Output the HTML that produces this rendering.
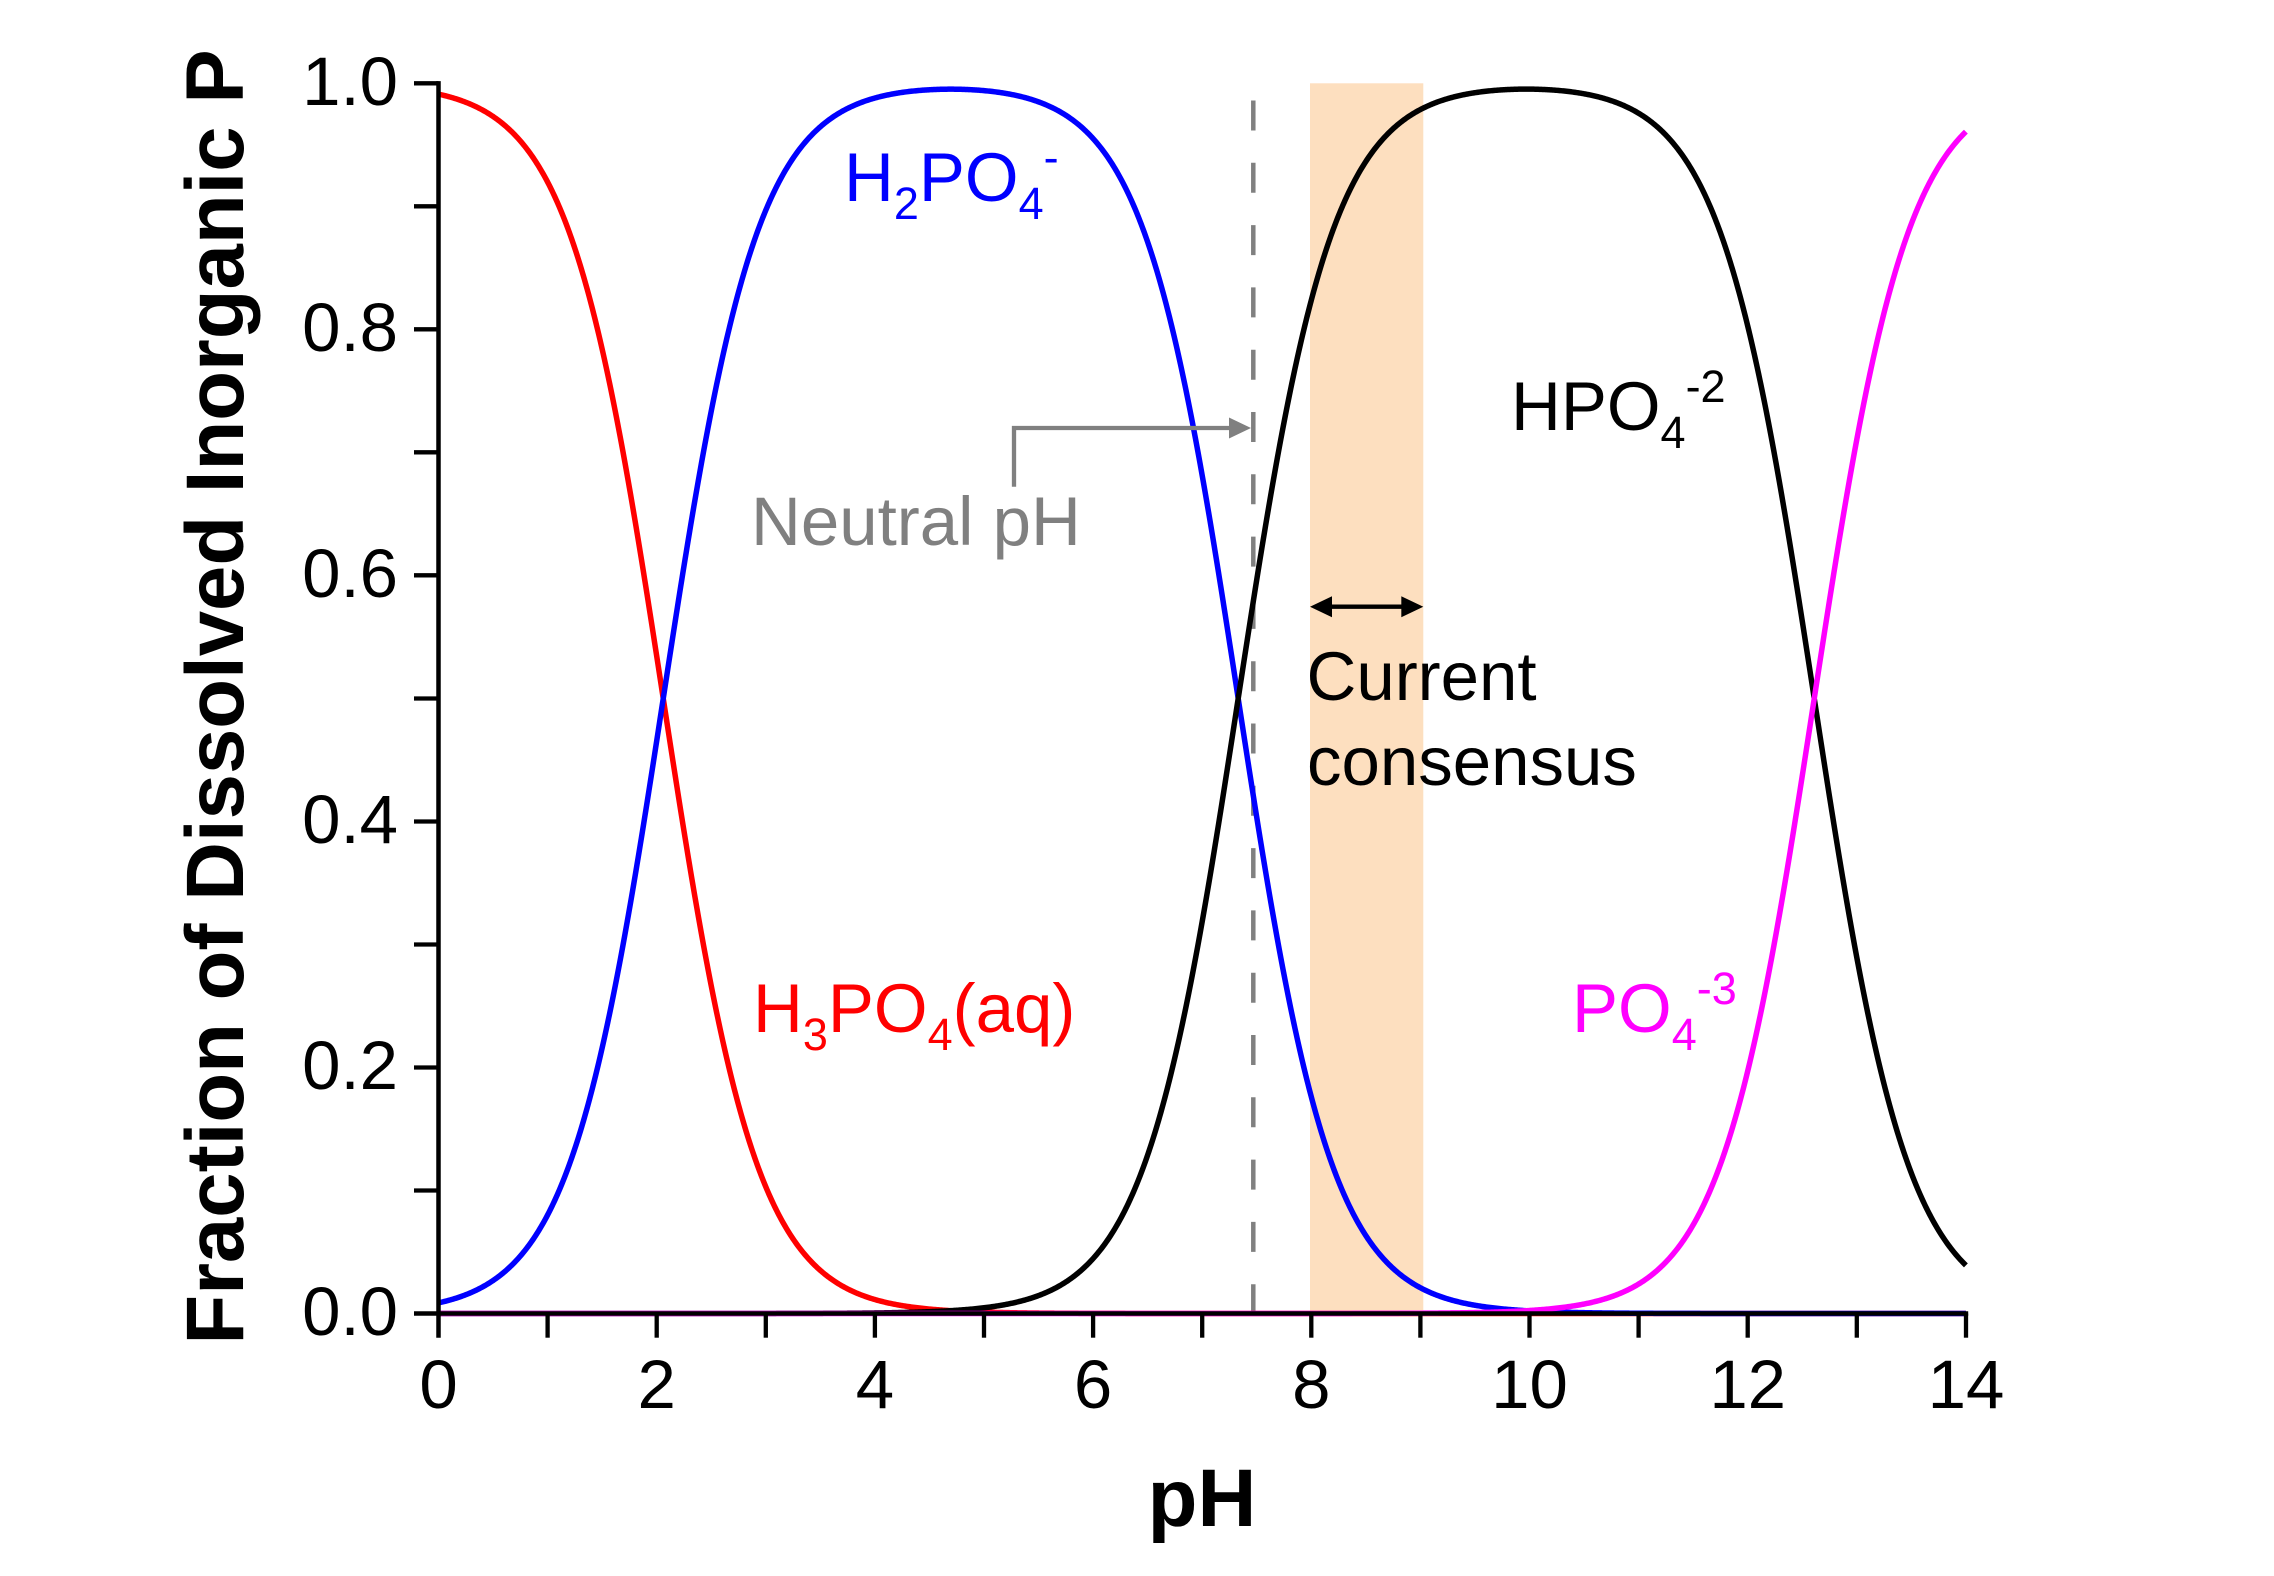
<!DOCTYPE html>
<html>
<head>
<meta charset="utf-8">
<style>
  html, body { margin: 0; padding: 0; background: #ffffff; }
  svg { display: block; }
  text { font-family: "Liberation Sans", Arial, sans-serif; }
</style>
</head>
<body>
<svg xmlns="http://www.w3.org/2000/svg" width="2274" height="1576" viewBox="0 0 2274 1576">
  <rect x="0" y="0" width="2274" height="1576" fill="#ffffff"/>

  <!-- consensus band -->
  <rect x="1310" y="83.3" width="113.3" height="1230.2" fill="#FDDFBF"/>

  <!-- neutral pH dashed line -->
  <line x1="1253.3" y1="100.5" x2="1253.3" y2="1313.5" stroke="#808080" stroke-width="4.5" stroke-dasharray="30 32.3"/>

  <!-- curves -->
  <g fill="none" stroke-width="5.5" stroke-linejoin="round">
    <path id="c0" stroke="#FF0000" d=""/>
    <path id="c1" stroke="#0000FF" d=""/>
    <path id="c2" stroke="#000000" d=""/>
    <path id="c3" stroke="#FF00FF" d=""/>
  </g>

  <!-- axes -->
  <g stroke="#000000" stroke-width="4.5" fill="none">
    <line x1="438.5" y1="81.1" x2="438.5" y2="1337.7"/>
    <line x1="414" y1="1313.5" x2="1968.2" y2="1313.5"/>
  </g>
  <!-- y ticks -->
  <g stroke="#000000" stroke-width="4.3">
    <line x1="414" y1="83.3" x2="438.5" y2="83.3"/>
    <line x1="414" y1="206.3" x2="438.5" y2="206.3"/>
    <line x1="414" y1="329.3" x2="438.5" y2="329.3"/>
    <line x1="414" y1="452.3" x2="438.5" y2="452.3"/>
    <line x1="414" y1="575.3" x2="438.5" y2="575.3"/>
    <line x1="414" y1="698.5" x2="438.5" y2="698.5"/>
    <line x1="414" y1="821.5" x2="438.5" y2="821.5"/>
    <line x1="414" y1="944.5" x2="438.5" y2="944.5"/>
    <line x1="414" y1="1067.5" x2="438.5" y2="1067.5"/>
    <line x1="414" y1="1190.5" x2="438.5" y2="1190.5"/>
  </g>
  <!-- x ticks -->
  <g stroke="#000000" stroke-width="4.3">
    <line x1="547.6" y1="1313.5" x2="547.6" y2="1337.7"/>
    <line x1="656.7" y1="1313.5" x2="656.7" y2="1337.7"/>
    <line x1="765.8" y1="1313.5" x2="765.8" y2="1337.7"/>
    <line x1="874.9" y1="1313.5" x2="874.9" y2="1337.7"/>
    <line x1="984.0" y1="1313.5" x2="984.0" y2="1337.7"/>
    <line x1="1093.1" y1="1313.5" x2="1093.1" y2="1337.7"/>
    <line x1="1202.2" y1="1313.5" x2="1202.2" y2="1337.7"/>
    <line x1="1311.3" y1="1313.5" x2="1311.3" y2="1337.7"/>
    <line x1="1420.4" y1="1313.5" x2="1420.4" y2="1337.7"/>
    <line x1="1529.5" y1="1313.5" x2="1529.5" y2="1337.7"/>
    <line x1="1638.6" y1="1313.5" x2="1638.6" y2="1337.7"/>
    <line x1="1747.7" y1="1313.5" x2="1747.7" y2="1337.7"/>
    <line x1="1856.8" y1="1313.5" x2="1856.8" y2="1337.7"/>
    <line x1="1966.0" y1="1313.5" x2="1966.0" y2="1337.7"/>
  </g>

  <!-- y tick labels -->
  <g font-size="69" fill="#000000" text-anchor="end">
    <text x="398" y="1335">0.0</text>
    <text x="398" y="1089">0.2</text>
    <text x="398" y="843">0.4</text>
    <text x="398" y="597">0.6</text>
    <text x="398" y="351">0.8</text>
    <text x="398" y="105">1.0</text>
  </g>
  <!-- x tick labels -->
  <g font-size="69" fill="#000000" text-anchor="middle">
    <text x="438.5" y="1408">0</text>
    <text x="656.7" y="1408">2</text>
    <text x="874.9" y="1408">4</text>
    <text x="1093.1" y="1408">6</text>
    <text x="1311.3" y="1408">8</text>
    <text x="1529.5" y="1408">10</text>
    <text x="1747.7" y="1408">12</text>
    <text x="1966.0" y="1408">14</text>
  </g>

  <!-- axis titles -->
  <text x="1202" y="1526" font-size="81.5" font-weight="bold" text-anchor="middle" fill="#000000">pH</text>
  <text transform="translate(243,697) rotate(-90)" x="0" y="0" font-size="81.5" font-weight="bold" text-anchor="middle" fill="#000000">Fraction of Dissolved Inorganic P</text>

  <!-- species labels -->
  <text x="844" y="201" font-size="69" fill="#0000FF">H<tspan font-size="45" dy="18">2</tspan><tspan dy="-18">PO</tspan><tspan font-size="45" dy="18">4</tspan><tspan font-size="45" dy="-46">-</tspan></text>

  <text x="1511" y="430" font-size="69" fill="#000000">HPO<tspan font-size="45" dy="18">4</tspan><tspan font-size="45" dy="-46">-2</tspan></text>

  <text x="753" y="1032" font-size="69" fill="#FF0000">H<tspan font-size="45" dy="18">3</tspan><tspan dy="-18">PO</tspan><tspan font-size="45" dy="18">4</tspan><tspan dy="-18">(aq)</tspan></text>

  <text x="1572" y="1032" font-size="69" fill="#FF00FF">PO<tspan font-size="45" dy="18">4</tspan><tspan font-size="45" dy="-46">-3</tspan></text>

  <!-- Neutral pH annotation -->
  <text x="751" y="545" font-size="69" fill="#808080">Neutral pH</text>
  <path d="M1014,486.7 V428 H1231" fill="none" stroke="#808080" stroke-width="4.3" stroke-linejoin="miter"/>
  <polygon points="1251,428 1229,417.5 1229,438.5" fill="#808080"/>

  <!-- Current consensus annotation -->
  <line x1="1328" y1="606.7" x2="1405" y2="606.7" stroke="#000000" stroke-width="4.3"/>
  <polygon points="1310,606.7 1332,596.2 1332,617.2" fill="#000000"/>
  <polygon points="1423.3,606.7 1401.3,596.2 1401.3,617.2" fill="#000000"/>
  <text x="1306.5" y="700" font-size="69" fill="#000000">Current</text>
  <text x="1307" y="785" font-size="69" fill="#000000">consensus</text>
</svg>
<script>
(function(){
  var x0 = 438.5, sx = 109.1, y0 = 1313.5, sy = 1230;
  var k1 = Math.pow(10, -2.06), k2 = Math.pow(10, -7.33), k3 = Math.pow(10, -12.61);
  var d = [[], [], [], []];
  for (var i = 0; i <= 1400; i++) {
    var pH = i / 100;
    var h = Math.pow(10, -pH);
    var t = [h*h*h, k1*h*h, k1*k2*h, k1*k2*k3];
    var D = t[0] + t[1] + t[2] + t[3];
    var X = (x0 + sx * pH).toFixed(2);
    for (var j = 0; j < 4; j++) {
      d[j].push((i ? 'L' : 'M') + X + ',' + (y0 - sy * t[j] / D).toFixed(2));
    }
  }
  ['c0', 'c1', 'c2', 'c3'].forEach(function(id, j) {
    document.getElementById(id).setAttribute('d', d[j].join(''));
  });
})();
</script>
</body>
</html>
